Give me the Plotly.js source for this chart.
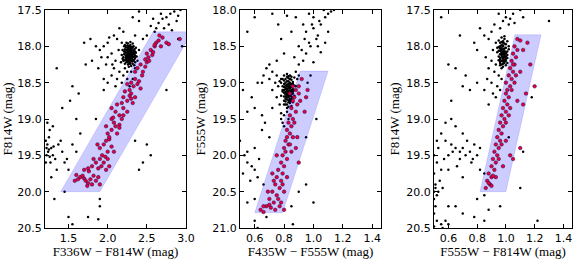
<!DOCTYPE html>
<html><head><meta charset="utf-8">
<script src="https://cdn.plot.ly/plotly-3.0.1.min.js"></script>
<style>html,body{margin:0;padding:0;background:#fff}#c{width:581px;height:259px}</style>
</head><body><div id="c"></div>
<script>
// ---------- Panel 1: F336W - F814W vs F814W ----------
const p1Field = [[2.68,17.55],[2.75,17.6],[2.8,17.55],[2.85,17.52],[2.9,17.58],[2.78,17.7],[2.72,17.75],[2.82,17.78],[2.65,17.68],[2.6,17.8],[2.55,17.72],[2.5,17.85],[2.45,17.9],[2.58,17.62],[2.93,17.5],[2.7,17.62],[2.88,17.65],[2.62,17.75],[2.4,17.65],[2.35,17.85],[2.2,17.8],[2.15,17.75],[2.32,17.6],[2.4,17.52],
[2.0,17.95],[1.95,18.0],[2.05,18.1],[2.1,18.2],[2.0,18.15],[1.9,18.05],[2.12,17.9],[2.18,17.95],[1.85,18.0],[2.02,17.88],[2.08,18.3],[2.15,18.35],[2.2,18.4],[2.12,18.45],[2.18,18.5],[2.25,18.45],[2.3,18.35],[2.22,18.3],[2.05,18.4],[2.1,18.55],[2.0,18.5],[1.95,18.45],[2.28,18.55],[2.32,18.45],[1.88,18.3],[1.92,18.15],[2.35,18.3],[1.8,18.2],[1.72,18.25],[1.7,17.95],[1.78,17.9],[2.14,18.05],[2.17,18.22],[2.06,18.25],[2.38,18.2],[2.4,18.05],[2.25,18.35],[2.08,17.85],[1.98,18.25],
[1.35,18.3],[1.55,18.55],[1.52,18.75],[1.63,18.65],[1.42,18.85],[1.3,19.1],[1.25,19.25],[1.23,19.35],[1.22,19.4],[1.25,19.42],[1.24,19.45],[1.28,19.4],[1.3,19.5],[1.33,19.55],[1.27,19.6],[1.35,19.7],[1.28,19.8],[1.45,19.6],[1.48,19.55],[1.37,19.35],[1.4,19.3],[1.22,19.5],[1.21,19.3],[1.26,19.15],[1.23,19.05],[1.85,19.0],[1.65,19.2],[1.6,19.45],[1.55,19.35],[1.32,20.1],[1.5,20.35],[1.55,20.45],[1.75,20.35],[1.88,20.38],[1.9,20.2],[1.9,20.1],[1.45,20.0],[2.55,19.5],[2.5,19.35],[2.45,19.6],[2.4,19.7],[2.35,19.3],[1.95,18.6],[1.6,19.0],[2.75,18.6],[2.9,17.9],[2.95,18.0],[1.5,19.7],[1.42,19.45],[1.21,19.6],[1.26,19.52],[1.31,19.38]];
const p1Clump = [[2.25,18.02],[2.28,18.05],[2.30,18.08],[2.27,18.10],[2.24,18.12],[2.29,18.14],[2.32,18.11],[2.26,18.07],[2.31,18.03],[2.23,18.09],[2.28,18.16],[2.25,18.18],[2.30,18.20],[2.27,18.00],[2.33,18.06],[2.22,18.04],[2.29,17.98],[2.26,17.96],[2.31,18.17],[2.24,18.15],[2.35,18.13],[2.21,18.11],[2.28,18.22],[2.32,18.24],[2.26,18.25],[2.30,18.01],[2.34,18.18],[2.23,18.19],[2.27,18.13],[2.29,18.09],[2.25,18.06],[2.31,18.12],[2.28,18.03],[2.36,18.09],[2.20,18.15],[2.33,18.00],[2.24,18.22],[2.30,18.27],[2.27,18.28],[2.22,17.98],[2.35,18.22],[2.29,17.94],[2.26,18.11],[2.32,18.15],[2.28,18.19],[2.25,18.09],[2.30,18.05],[2.23,18.01],[2.34,18.04],[2.27,18.17],
[2.19,18.05],[2.18,18.12],[2.20,18.20],[2.21,18.00],[2.36,18.02],[2.37,18.14],[2.34,18.26],[2.22,18.24],[2.24,17.95],[2.32,17.96],[2.19,18.17],[2.21,18.07],[2.35,18.07],[2.33,18.20],[2.26,18.02],[2.29,18.06],[2.27,18.08],[2.31,18.09],[2.24,18.05],[2.28,18.12],[2.30,18.14],[2.26,18.15],[2.29,18.18],[2.25,18.13],[2.31,18.21],[2.27,18.21],[2.23,18.13],[2.33,18.09],[2.30,18.11],[2.26,18.19],[2.28,18.00],[2.32,18.01],[2.25,17.99],[2.29,18.24],[2.24,18.17],[2.34,18.11],[2.22,18.07],[2.27,18.04],[2.31,18.06],[2.28,18.09],[2.26,18.04],[2.30,18.17],[2.32,18.19],[2.23,18.16],[2.29,18.02],[2.27,18.24],[2.35,18.16],[2.21,18.19],[2.25,18.21],[2.33,18.14]];
const p1Sel = [[1.6,19.77],[1.65,19.8],[1.7,19.82],[1.72,19.85],[1.75,19.88],[1.78,19.83],[1.68,19.78],[1.62,19.83],[1.8,19.9],[1.85,19.85],[1.82,19.78],[1.88,19.8],[1.7,19.7],[1.76,19.72],[1.9,19.9],[1.74,19.92],[1.58,19.85],
[1.75,19.68],[1.8,19.65],[1.85,19.6],[1.9,19.55],[1.92,19.65],[1.95,19.6],[1.88,19.68],[1.97,19.52],[2.0,19.55],[1.93,19.5],[1.98,19.7],[1.82,19.55],[2.02,19.65],
[1.9,19.4],[1.95,19.35],[2.0,19.45],[2.05,19.38],[1.98,19.3],[2.08,19.45],[2.02,19.28],[1.87,19.35],
[2.0,19.2],[2.05,19.15],[2.1,19.1],[2.08,19.05],[2.12,19.2],[2.15,19.08],[2.05,19.0],[2.02,19.25],[2.15,19.12],[2.18,19.0],[1.98,19.1],
[2.05,18.85],[2.1,18.9],[2.15,18.95],[2.12,18.8],[2.2,18.85],[2.2,18.95],[2.07,18.98],[2.25,18.9],
[2.2,18.7],[2.25,18.75],[2.3,18.72],[2.32,18.78],[2.28,18.68],[2.22,18.62],[2.35,18.7],[2.18,18.78],[2.3,18.65],
[2.3,18.5],[2.35,18.45],[2.33,18.55],[2.4,18.48],[2.38,18.52],[2.28,18.6],[2.42,18.58],[2.25,18.52],
[2.38,18.3],[2.42,18.25],[2.45,18.35],[2.48,18.28],[2.35,18.35],[2.5,18.22],[2.44,18.4],
[2.5,18.1],[2.52,18.15],[2.55,18.05],[2.57,18.12],[2.6,18.0],[2.48,18.18],[2.53,18.2],[2.58,18.08],
[2.62,17.95],[2.65,17.92],[2.68,18.0],[2.7,17.88],[2.75,17.95],[2.78,17.97],[2.92,17.9],[2.6,17.98],[2.66,17.85]];
const p1BoxX = [1.4, 1.9, 3.08, 2.58, 1.4];
const p1BoxY = [20.0, 20.0, 17.8, 17.8, 20.0];

// ---------- Panel 2: F435W - F555W vs F555W ----------
const p2Field = [[0.95,18.3],[1.0,18.25],[1.02,18.4],[1.05,18.2],[1.08,18.1],[1.1,18.05],[1.12,18.02],[1.0,18.1],[0.98,18.5],[0.95,18.6],[0.93,18.7],[0.9,18.75],[0.88,18.85],[0.92,18.55],[0.97,18.45],[1.03,18.35],[1.07,18.0],[1.04,18.15],[0.99,18.2],[0.94,18.4],[0.9,18.5],[0.87,18.65],[1.0,18.72],[1.05,18.58],[1.08,18.45],[1.03,18.5],[0.85,18.3],[0.88,18.1],[0.82,18.08],[0.76,18.2],[0.72,18.05],[0.6,18.1],[0.55,18.3],[0.78,18.4],[0.8,18.6],[0.75,18.7],[0.7,18.75],[0.72,18.85],[0.68,18.8],[0.66,18.9],[0.65,19.0],[0.7,18.95],[0.75,18.9],[0.78,18.95],[0.62,19.0],[0.72,19.1],[0.58,19.2],[0.55,19.4],[0.6,19.35],[0.65,19.45],[0.72,19.35],[0.78,19.5],[0.8,19.6],[0.82,19.4],[0.8,19.3],[0.85,19.35],[0.77,19.3],[0.75,19.2],[0.52,19.1],[0.5,19.8],[0.53,20.0],[0.55,20.1],[0.58,20.15],[0.6,20.2],[0.62,20.3],[0.57,20.35],[0.52,20.25],[0.55,19.95],[0.6,19.9],[0.63,20.05],[0.66,20.4],[0.6,20.6],[0.55,20.65],[0.6,20.9],[0.62,21.0],[0.68,20.85],[0.85,20.7],[0.86,20.95],[0.9,20.5],[1.0,20.65],[0.95,20.4],[0.95,19.75],[1.02,19.5],[0.65,19.65],[0.7,19.75],[0.67,19.55],[0.82,19.35],[0.8,19.45],[0.83,19.5],[0.79,19.55],[0.78,19.42],[0.76,19.05],[0.77,18.98],[0.74,19.0],[0.89,18.95],[0.9,18.9],[0.93,18.2],[0.97,18.05],[1.1,18.3],[1.14,18.0],[0.98,18.9],[0.96,19.0]];
const p2Clump = [[0.82,18.92],[0.84,18.95],[0.83,18.98],[0.81,19.00],[0.85,19.02],[0.83,19.04],[0.80,19.06],[0.84,19.08],[0.82,19.10],[0.86,19.12],[0.83,19.14],[0.81,19.16],[0.84,19.18],[0.82,19.20],[0.85,19.22],[0.83,19.01],[0.80,18.97],[0.86,18.99],[0.82,19.05],[0.84,19.11],[0.81,19.09],[0.85,19.06],[0.83,19.17],[0.79,19.12],[0.87,19.04],[0.82,18.88],[0.84,18.90],[0.80,19.19],[0.86,19.15],[0.83,19.24],[0.81,19.26],[0.84,19.28],[0.82,19.03],[0.85,18.96],[0.83,19.08],[0.80,19.02],[0.84,19.13],[0.82,19.15],[0.86,19.09],[0.81,19.22],[0.83,18.94],[0.85,19.19],[0.79,19.05],[0.84,19.00],[0.82,19.30],[0.83,19.11],[0.81,19.13],[0.85,19.25],
[0.78,19.00],[0.79,19.10],[0.78,19.18],[0.87,18.93],[0.88,19.05],[0.87,19.18],[0.86,19.27],[0.80,18.90],[0.81,19.30],[0.85,19.32],[0.80,19.25],[0.79,18.95],[0.82,18.98],[0.84,19.03],[0.83,19.06],[0.81,19.07],[0.85,19.10],[0.82,19.12],[0.84,19.16],[0.80,19.14],[0.86,19.20],[0.83,19.20],[0.82,19.23],[0.84,19.22],[0.81,19.04],[0.85,19.13],[0.83,19.27],[0.82,19.17],[0.84,19.06],[0.86,19.02],[0.81,18.95],[0.83,18.91],[0.85,18.92],[0.80,19.10],[0.87,19.10],[0.82,19.08],[0.84,19.25],[0.83,19.33],[0.81,19.19],[0.85,19.16]];
const p2Sel = [[0.92,18.95],[0.9,19.05],[0.88,19.1],[0.9,19.15],[0.87,19.2],[0.86,19.25],[0.89,19.3],[0.85,19.35],[0.88,19.4],[0.84,19.45],[0.86,19.5],[0.83,19.55],[0.85,19.6],[0.82,19.65],[0.84,19.7],[0.86,19.75],[0.81,19.8],[0.83,19.85],[0.8,19.9],[0.85,19.95],[0.79,20.0],[0.82,20.05],[0.78,20.1],[0.8,20.15],[0.76,20.2],[0.79,20.25],[0.75,20.3],[0.78,20.35],[0.74,20.4],[0.77,20.45],[0.72,20.5],[0.75,20.55],[0.7,20.6],[0.73,20.65],[0.68,20.7],[0.71,20.72],[0.64,20.75],[0.66,20.78],[0.78,20.65],[0.8,20.5],[0.82,20.3],[0.9,20.1],[0.88,19.9],[0.95,19.2],[0.96,19.1],[0.94,19.4],[0.84,19.15],[0.87,19.55],[0.89,19.75],[0.81,19.95],[0.75,20.0],[0.72,20.25],[0.69,20.5],[0.77,20.7],[0.82,19.75],[0.86,19.05],[0.91,19.25],[0.84,19.85],[0.79,20.4],[0.73,20.35],[0.76,20.6],[0.7,20.68],[0.66,20.7],[0.74,20.75],[0.8,20.75]];
const p2BoxX = [0.6, 0.79, 1.10, 0.91, 0.6];
const p2BoxY = [20.79, 20.79, 18.84, 18.84, 20.79];

// ---------- Panel 3: F555W - F814W vs F814W ----------
const p3Field = [[1.0,17.6],[1.05,17.55],[1.02,17.7],[0.98,17.65],[1.1,17.5],[0.95,17.55],[0.92,17.7],[0.9,17.8],[0.88,17.9],[0.85,17.85],[0.82,17.75],[0.78,17.95],[0.8,18.05],[0.86,18.15],[0.9,18.2],[0.88,18.3],[0.92,18.35],[0.95,18.4],[0.9,18.5],[0.94,18.55],[0.87,18.45],[0.85,18.6],[0.93,18.7],[0.8,18.5],[0.75,18.6],[0.7,18.55],[0.72,18.4],[0.65,18.3],[0.6,18.25],[0.55,17.6],[0.68,17.85],[1.3,17.65],[1.12,17.6],[0.62,18.75],[1.03,17.62],[1.06,17.68],[0.96,17.75],[0.93,17.95],[0.91,18.05],[0.93,18.25],[0.97,18.45],[0.96,18.6],[0.91,18.65],[0.88,18.8],
[0.55,19.2],[0.58,19.3],[0.62,19.35],[0.65,19.4],[0.6,19.5],[0.7,19.4],[0.72,19.5],[0.75,19.45],[0.68,19.55],[0.78,19.35],[0.8,19.5],[0.82,19.4],[0.65,19.1],[0.7,19.2],[0.62,19.0],[0.58,19.05],[0.52,19.3],[0.5,19.5],[0.52,19.6],[0.55,19.7],[0.6,19.7],[0.66,19.65],[0.76,19.6],[0.82,19.7],[0.85,19.75],[0.7,19.8],[0.54,19.85],[0.51,19.9],[0.5,20.0],[0.52,20.05],[0.5,20.1],[0.51,19.95],[0.53,20.0],[0.56,19.95],[0.5,19.75],[0.6,20.2],[0.65,20.2],[0.55,20.45],[0.52,20.4],[0.5,20.3],[0.58,20.4],[0.6,20.45],[0.7,20.3],[0.78,20.35],[0.85,20.4],[0.88,20.25],[0.8,20.1],[0.85,20.05],[0.96,20.2],[1.22,20.4],[1.1,19.95],[1.12,19.45],[1.18,18.7],[1.02,19.25],[0.63,19.45],[0.73,19.3],[0.68,19.45],[0.77,19.55],[0.53,19.4],[0.57,19.55],[0.51,20.2],[0.5,20.48],[0.56,20.5]];
const p3Clump = [[0.97,17.88],[0.99,17.90],[0.98,17.93],[0.96,17.95],[1.00,17.97],[0.98,17.99],[0.95,18.01],[0.99,18.03],[0.97,18.05],[1.01,18.07],[0.98,18.09],[0.96,18.11],[0.99,18.13],[0.97,18.15],[1.00,18.17],[0.98,18.19],[0.96,18.21],[0.99,18.23],[0.97,18.25],[0.98,18.28],[0.96,18.00],[1.00,18.02],[0.98,18.04],[0.97,18.10],[0.99,18.08],[0.95,18.06],[1.01,18.12],[0.98,18.14],[0.96,18.16],[1.00,18.20],[0.97,17.98],[0.99,17.96],[0.98,18.00],[0.96,18.18],[1.00,18.10],[0.97,18.20],[0.99,18.18],[0.94,18.08],[1.02,18.04],[0.98,18.24],[0.97,18.30],[0.99,17.86],[0.96,18.26],[1.00,18.26],
[0.95,18.14],[0.94,18.02],[1.01,18.16],[1.02,18.00],[0.95,17.92],[1.01,17.93],[0.96,18.06],[0.98,18.07],[0.99,18.11],[0.97,18.12],[0.98,18.16],[0.99,18.21],[0.97,18.02],[0.98,17.95],[0.96,18.23],[1.00,18.14],[0.98,18.11],[0.97,18.08],[0.99,18.06],[0.95,18.19],[1.01,18.23],[0.98,18.21],[0.96,18.03],[1.00,18.08],[0.97,17.94],[0.99,18.15]];
const p3Sel = [[1.08,17.9],[1.1,17.92],[1.15,17.95],[1.06,18.0],[1.08,18.05],[1.05,18.1],[1.07,18.15],[1.04,18.2],[1.06,18.25],[1.03,18.3],[1.05,18.35],[1.02,18.4],[1.04,18.45],[1.0,18.5],[1.03,18.55],[1.01,18.6],[1.0,18.65],[1.02,18.7],[0.99,18.75],[1.01,18.8],[0.98,18.85],[1.0,18.9],[0.97,18.95],[0.99,19.0],[0.96,19.05],[0.98,19.1],[0.95,19.15],[0.97,19.2],[0.94,19.25],[0.96,19.3],[0.93,19.35],[0.95,19.4],[0.92,19.45],[0.94,19.5],[0.91,19.55],[0.93,19.6],[0.9,19.65],[0.92,19.7],[0.88,19.75],[0.9,19.8],[0.87,19.85],[0.89,19.9],[0.86,19.95],[0.88,19.88],[0.91,19.78],[1.12,18.05],[1.17,18.25],[1.2,18.55],[1.14,18.65],[1.08,18.75],[1.1,19.4],[1.05,19.55],[1.03,19.5],[1.06,18.5],[1.1,18.35],[1.12,18.8],[0.98,19.65],[1.0,19.3],[1.04,18.6],[1.02,18.95],[1.0,19.05],[0.97,19.35],[1.03,18.85],[1.05,18.25],[1.07,18.4],[0.95,19.55],[0.93,19.8],[0.9,19.92]];
const p3BoxX = [0.82, 1.0, 1.245, 1.063, 0.82];
const p3BoxY = [20.0, 20.0, 17.84, 17.84, 20.0];

const xs = a => a.map(p => p[0]);
const ys = a => a.map(p => p[1]);
const panels = [
  {field: p1Field.concat(p1Clump), sel: p1Sel, bx: p1BoxX, by: p1BoxY},
  {field: p2Field.concat(p2Clump), sel: p2Sel, bx: p2BoxX, by: p2BoxY},
  {field: p3Field.concat(p3Clump), sel: p3Sel, bx: p3BoxX, by: p3BoxY}
];
const traces = [];
panels.forEach((p, i) => {
  const xa = i === 0 ? 'x' : 'x' + (i + 1);
  const ya = i === 0 ? 'y' : 'y' + (i + 1);
  traces.push({type:'scatter', mode:'markers', x: xs(p.field), y: ys(p.field), xaxis: xa, yaxis: ya,
    marker:{size:2.5, color:'#000'}, cliponaxis:true, showlegend:false, hoverinfo:'skip'});
  traces.push({type:'scatter', mode:'lines', x: p.bx, y: p.by, xaxis: xa, yaxis: ya, fill:'toself',
    fillcolor:'rgba(0,0,255,0.2)', line:{width:0.6, color:'rgba(0,0,255,0.2)'}, showlegend:false, hoverinfo:'skip'});
  traces.push({type:'scatter', mode:'markers', x: xs(p.sel), y: ys(p.sel), xaxis: xa, yaxis: ya,
    marker:{size:3.6, color:'#e8003a', line:{width:0.5, color:'#1a0a5a'}}, cliponaxis:true, showlegend:false, hoverinfo:'skip'});
});

const W = 581, H = 259;
const yDom = [1 - 228 / H, 1 - 10 / H];
const tickFont = {family:'DejaVu Sans, sans-serif', size:11, color:'#000'};
const titleFont = {family:'Liberation Serif, Times New Roman, serif', size:13, color:'#000'};
function xaxis(dom, range, tick0, dtick, title) {
  return {domain: dom, range: range, tick0: tick0, dtick: dtick, tickformat: '.1f', ticks:'inside', ticklen:4,
    tickcolor:'#000', showline:true, linecolor:'#000', linewidth:1, mirror:'ticks', showgrid:false, zeroline:false,
    tickfont: tickFont, title:{text: title, font: titleFont, standoff:3}};
}
function yaxis(range, title, anchor) {
  return {domain: yDom, range: range, tick0: 17.5, dtick: 0.5, tickformat:'.1f', ticks:'inside', ticklen:4,
    tickcolor:'#000', showline:true, linecolor:'#000', linewidth:1, mirror:'ticks', showgrid:false, zeroline:false,
    tickfont: tickFont, anchor: anchor, title:{text: title, font: titleFont, standoff:3}};
}
const layout = {
  width: W, height: H, margin:{l:0, r:0, t:0, b:0}, paper_bgcolor:'#fff', plot_bgcolor:'#fff',
  xaxis: Object.assign(xaxis([45 / W, 186 / W], [1.2, 3.0], 1.5, 0.5, 'F336W − F814W (mag)'), {anchor:'y'}),
  yaxis: yaxis([20.5, 17.5], 'F814W (mag)', 'x'),
  xaxis2: Object.assign(xaxis([240 / W, 381 / W], [0.5, 1.46], 0.6, 0.2, 'F435W − F555W (mag)'), {anchor:'y2'}),
  yaxis2: yaxis([21.0, 18.0], 'F555W (mag)', 'x2'),
  xaxis3: Object.assign(xaxis([434 / W, 572 / W], [0.5, 1.46], 0.6, 0.2, 'F555W − F814W (mag)'), {anchor:'y3'}),
  yaxis3: yaxis([20.5, 17.5], 'F814W (mag)', 'x3')
};
Plotly.newPlot('c', traces, layout, {staticPlot:true, displayModeBar:false});
</script>
</body></html>
